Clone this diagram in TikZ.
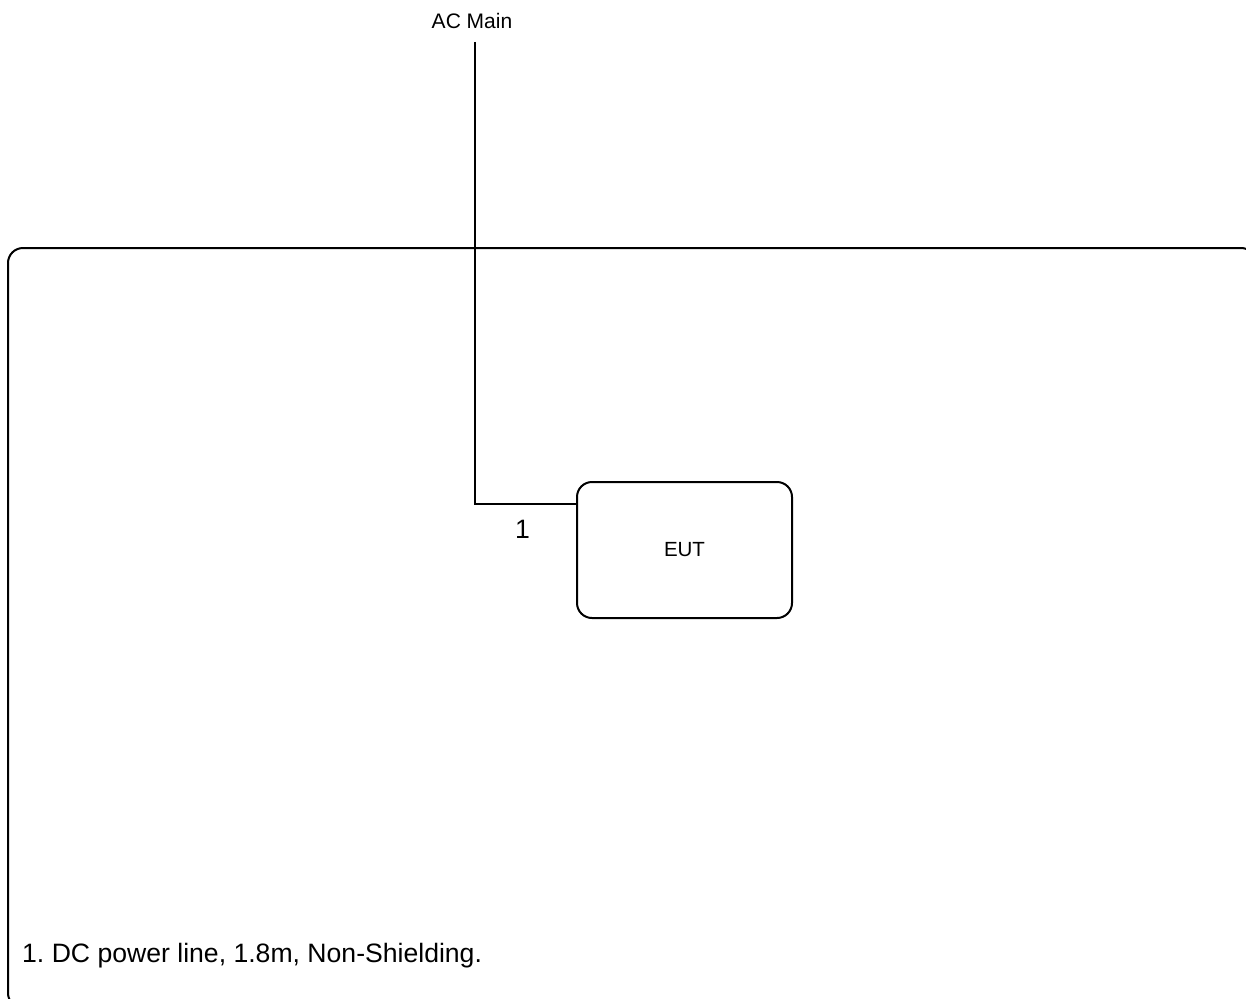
\documentclass[tikz,border=0pt]{standalone}
\usepackage{fontspec}
\setmainfont{Liberation Sans}
\frenchspacing
\tikzset{
  wire/.style={line width=2pt, black},
  unitbox/.style={draw, line width=2pt, rounded corners=15pt, minimum width=215pt,
    minimum height=136pt, inner sep=0pt, font=\fontsize{20.5}{24}\selectfont},
  smalllabel/.style={inner sep=0pt, font=\fontsize{21}{25}\selectfont},
  biglabel/.style={inner sep=0pt, font=\fontsize{26.6}{31}\selectfont},
}
\begin{document}
\begin{tikzpicture}[x=1pt, y=-1pt]
\useasboundingbox (0,0) rectangle (1246,998);
% test area frame, running past the right and bottom edges
\begin{scope}
  \clip (0,0) rectangle (1246,998);
  \draw[wire, rounded corners=15pt] (8,248) rectangle (1256,1008);
\end{scope}
% mains feed
\node[smalllabel] (ac) at (472,21) {AC Main};
\coordinate (feed) at (475,42);
\coordinate (elbow) at (475,504);
% equipment under test
\node[unitbox] (eut) at (684.5,550) {EUT};
\draw[wire] (feed) -- (elbow) -- (elbow -| eut.west);
\node[biglabel] (n1) at (522.5,529) {1};
% cable legend
\node[biglabel, anchor=base west] (note) at (22,962) {1. DC power line, 1.8m, Non-Shielding.};
\end{tikzpicture}
\end{document}
